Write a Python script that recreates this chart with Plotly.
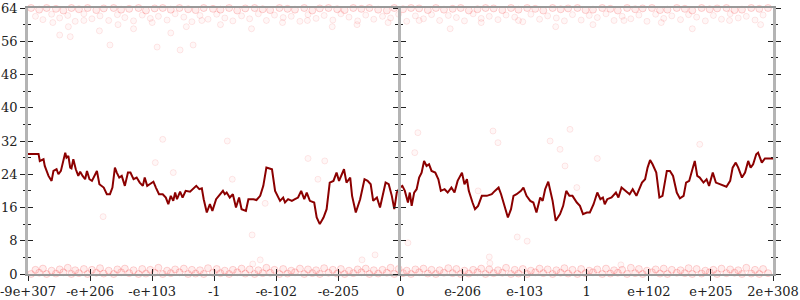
import plotly.graph_objects as go

# ---- data ----
tick_vals_left = [-6, -5, -4, -3, -2, -1, 0]
tick_text_left = ["-9e+307", "-e+206", "-e+103", "-1", "-e-102", "-e-205", "0"]
tick_vals_right = [1, 2, 3, 4, 5, 6]
tick_text_right = ["e-206", "e-103", "1", "e+102", "e+205", "2e+308"]

line_x = [-6.00, -5.83, -5.81, -5.75, -5.73, -5.67, -5.62, -5.59, -5.54, -5.51, -5.47, -5.44, -5.40, -5.38,
          -5.35, -5.32, -5.30, -5.27, -5.23, -5.19, -5.16, -5.12, -5.08, -5.05, -5.01, -4.97, -4.94, -4.89,
          -4.85, -4.81, -4.78, -4.73, -4.68, -4.64, -4.60, -4.57, -4.53, -4.49, -4.44, -4.39, -4.35, -4.30,
          -4.25, -4.20, -4.15, -4.12, -4.08, -4.04, -3.98, -3.94, -3.89, -3.83, -3.78, -3.74, -3.70, -3.66,
          -3.63, -3.60, -3.55, -3.51, -3.46, -3.39, -3.34, -3.29, -3.24, -3.20, -3.17, -3.12, -3.07, -3.03,
          -2.97, -2.92, -2.86, -2.83, -2.80, -2.75, -2.70, -2.65, -2.60, -2.56, -2.49, -2.45, -2.37, -2.32,
          -2.26, -2.21, -2.16, -2.11, -2.07, -2.02, -1.94, -1.89, -1.86, -1.81, -1.75, -1.70, -1.65, -1.60,
          -1.55, -1.51, -1.46, -1.39, -1.35, -1.30, -1.24, -1.19, -1.14, -1.08, -1.03, -0.99, -0.95, -0.91,
          -0.87, -0.81, -0.78, -0.72, -0.65, -0.58, -0.53, -0.48, -0.44, -0.38, -0.33, -0.28, -0.24, -0.19,
          -0.14, -0.10, -0.06, -0.01, 0.03, 0.07, 0.12, 0.15, 0.18, 0.22, 0.26, 0.30, 0.34, 0.38, 0.42,
          0.46, 0.50, 0.56, 0.61, 0.65, 0.71, 0.76, 0.82, 0.87, 0.92, 0.99, 1.03, 1.07, 1.10, 1.16, 1.20,
          1.25, 1.31, 1.39, 1.47, 1.52, 1.58, 1.62, 1.67, 1.73, 1.78, 1.82, 1.87, 1.94, 1.98, 2.03, 2.09,
          2.14, 2.19, 2.25, 2.29, 2.33, 2.38, 2.42, 2.45, 2.50, 2.57, 2.62, 2.67, 2.72, 2.77, 2.84, 2.89,
          2.94, 3.00, 3.05, 3.11, 3.17, 3.22, 3.26, 3.29, 3.33, 3.40, 3.47, 3.51, 3.56, 3.62, 3.69, 3.74,
          3.80, 3.89, 3.94, 3.98, 4.02, 4.06, 4.12, 4.17, 4.22, 4.29, 4.34, 4.39, 4.45, 4.50, 4.56, 4.60,
          4.65, 4.71, 4.74, 4.78, 4.82, 4.88, 4.93, 4.97, 5.03, 5.08, 5.14, 5.20, 5.25, 5.31, 5.35, 5.40,
          5.44, 5.50, 5.55, 5.60, 5.64, 5.68, 5.73, 5.76, 5.82, 5.87, 5.95, 6.00]
line_y = [28.9, 28.9, 27.2, 27.6, 26.0, 23.6, 22.4, 24.8, 25.2, 24.0, 24.8, 26.8, 29.2, 28.0,
          28.4, 25.6, 25.4, 27.6, 25.2, 23.6, 24.6, 23.6, 22.8, 24.8, 22.8, 22.4, 23.2, 24.8,
          21.6, 21.2, 20.8, 19.2, 19.2, 20.8, 25.6, 24.4, 23.2, 23.6, 21.2, 24.4, 24.4, 22.8,
          23.2, 22.0, 21.2, 23.2, 21.2, 21.6, 22.2, 20.8, 19.2, 19.2, 18.4, 16.8, 18.8, 17.6,
          19.6, 18.0, 19.8, 18.4, 20.0, 19.8, 20.4, 21.2, 20.4, 20.6, 18.0, 14.8, 16.8, 15.2,
          18.0, 18.8, 20.0, 19.2, 19.6, 18.4, 19.2, 16.0, 18.4, 15.6, 15.2, 18.0, 18.0, 17.8,
          18.8, 21.2, 25.6, 25.4, 25.2, 20.0, 17.6, 18.4, 17.2, 18.0, 17.6, 18.0, 18.4, 20.0,
          18.0, 19.6, 17.6, 17.2, 13.6, 12.0, 13.6, 15.6, 22.0, 22.4, 24.4, 22.4, 23.6, 25.2,
          22.0, 23.2, 18.8, 14.8, 18.0, 22.8, 22.4, 21.6, 17.6, 18.4, 16.0, 19.6, 22.0, 21.6,
          18.8, 15.6, 19.6, 20.8, 21.2, 20.0, 17.2, 19.6, 16.4, 19.6, 20.4, 23.2, 24.4, 27.2, 26.0,
          26.4, 24.8, 24.4, 22.8, 20.0, 20.4, 19.6, 20.8, 19.6, 22.4, 24.4, 21.6, 22.8, 20.0, 17.2, 15.6,
          16.4, 18.8, 18.8, 19.2, 20.0, 20.8, 19.2, 16.4, 13.6, 15.6, 18.8, 19.2, 20.0, 20.8, 18.8, 17.6,
          17.2, 14.8, 18.4, 17.6, 20.4, 22.2, 19.6, 17.6, 12.8, 14.4, 16.4, 20.0, 18.8, 18.8, 17.2, 16.4,
          14.4, 14.8, 14.8, 16.8, 19.6, 18.0, 18.4, 16.8, 18.0, 18.4, 19.6, 18.4, 20.8, 20.0, 19.2, 20.4,
          18.8, 22.0, 22.8, 25.6, 27.4, 26.4, 24.4, 18.4, 18.8, 24.8, 24.8, 23.6, 19.6, 18.2, 18.8, 22.0,
          22.4, 25.6, 27.2, 23.6, 23.2, 22.0, 22.8, 21.2, 24.4, 22.0, 21.6, 21.2, 21.0, 22.4, 25.6, 26.8,
          25.6, 23.2, 24.4, 27.2, 25.6, 26.4, 28.8, 29.2, 26.8, 27.8, 27.8, 27.8]

# faint sample points: bottom band
bot_x = [-5.95, -5.82, -5.7, -5.55, -5.43, -5.3, -5.18, -5.04, -4.9, -4.78, -4.62, -4.5, -4.37, -4.22, -4.1,
         -3.96, -3.83, -3.7, -3.56, -3.42, -3.3, -3.17, -3.02, -2.9, -2.76, -2.63, -2.5, -2.35, -2.22, -2.1,
         -1.95, -1.82, -1.7, -1.55, -1.42, -1.3, -1.16, -1.02, -0.9, -0.76, -0.63, -0.5, -0.36, -0.22, -0.1,
         0.04, 0.17, 0.3, 0.44, 0.57, 0.7, 0.84, 0.97, 1.1, 1.24, 1.37, 1.5, 1.64, 1.78, 1.9,
         2.04, 2.17, 2.3, 2.45, 2.58, 2.7, 2.85, 2.98, 3.1, 3.25, 3.38, 3.5, 3.65, 3.78, 3.9,
         4.05, 4.18, 4.3, 4.45, 4.58, 4.7, 4.85, 4.98, 5.1, 5.25, 5.38, 5.5, 5.65, 5.78, 5.92]
bot_y = [0, 0.3, 0, 0.1, 0.4, 0, 0.2, 0, 0.3, 0.1, 0, 0.4, 0.2, 0, 0.1,
         0.3, 0, 0.2, 0.4, 0, 0.1, 0, 0.3, 0.2, 0, 0.4, 0.1, 0, 0.2, 0.3,
         0, 0.1, 0.4, 0, 0.2, 0, 0.3, 0.1, 0, 0.2, 0.4, 0, 0.1, 0.3, 0,
         0.2, 0, 0.4, 0.1, 0, 0.3, 0.2, 0, 0.1, 0.4, 0, 0.2, 0.3, 0, 0.1,
         0, 0.4, 0.2, 0, 0.3, 0.1, 0, 0.2, 0.4, 0, 0.1, 0.3, 0, 0.2, 0,
         0.4, 0.1, 0, 0.3, 0.2, 0, 0.1, 0.4, 0, 0.2, 0.3, 0, 0.1, 0, 0.2]
bot2_x = [-5.88, -5.76, -5.62, -5.49, -5.36, -5.24, -5.1, -4.97, -4.84, -4.7, -4.56, -4.44, -4.3, -4.16, -4.03,
          -3.9, -3.76, -3.63, -3.49, -3.36, -3.23, -3.1, -2.96, -2.83, -2.7, -2.56, -2.43, -2.29, -2.16, -2.03,
          -1.89, -1.76, -1.62, -1.49, -1.36, -1.23, -1.09, -0.96, -0.83, -0.69, -0.56, -0.43, -0.29, -0.16, -0.03,
          0.1, 0.24, 0.37, 0.5, 0.63, 0.77, 0.9, 1.03, 1.17, 1.3, 1.43, 1.57, 1.7, 1.84, 1.97,
          2.1, 2.24, 2.37, 2.51, 2.64, 2.77, 2.91, 3.04, 3.17, 3.31, 3.44, 3.57, 3.71, 3.84, 3.97,
          4.11, 4.24, 4.37, 4.51, 4.64, 4.77, 4.91, 5.04, 5.17, 5.31, 5.44, 5.57, 5.71, 5.84]
bot2_y = [1.0, 1.3, 0.8, 1.1, 1.5, 0.9, 1.2, 1.0, 1.4, 0.8, 1.1, 1.3, 0.9, 1.2, 1.0,
          1.5, 0.8, 1.1, 1.3, 1.0, 0.9, 1.4, 1.2, 0.8, 1.0, 1.3, 1.1, 0.9, 1.5, 1.0,
          1.2, 0.8, 1.3, 1.1, 0.9, 1.4, 1.0, 1.2, 0.8, 1.1, 1.3, 0.9, 1.0, 1.5, 1.2,
          0.8, 1.1, 1.3, 1.0, 0.9, 1.4, 1.2, 0.8, 1.0, 1.3, 1.1, 0.9, 1.5, 1.0, 1.2,
          0.8, 1.3, 1.1, 0.9, 1.4, 1.0, 1.2, 0.8, 1.1, 1.3, 0.9, 1.0, 1.5, 1.2, 0.8,
          1.1, 1.3, 1.0, 0.9, 1.4, 1.2, 0.8, 1.0, 1.3, 1.1, 0.9, 1.5, 1.0, 1.2]
# top band
top_y = [64, 63.6, 64, 63.8, 63.4, 64, 63.7, 64, 63.5, 63.9, 64, 63.6, 63.8, 64, 63.4,
         63.9, 64, 63.6, 64, 63.7, 63.5, 64, 63.8, 63.6, 64, 63.4, 63.9, 64, 63.7, 63.5,
         64, 63.8, 63.6, 64, 63.4, 63.9, 64, 63.7, 63.5, 64, 63.8, 64, 63.6, 63.4, 64,
         63.7, 64, 63.9, 63.5, 64, 63.6, 63.8, 64, 63.4, 63.7, 64, 63.9, 63.5, 64, 63.6,
         64, 63.8, 63.4, 64, 63.7, 63.9, 64, 63.5, 63.6, 64, 63.8, 63.4, 64, 63.7, 63.9,
         64, 63.5, 63.6, 64, 63.8, 63.4, 64, 63.7, 63.9, 64, 63.5, 63.6, 64, 63.8, 64]
top2_y = [62.0, 61.2, 62.5, 61.6, 62.2, 60.8, 62.6, 61.4, 62.1, 61.0, 62.4, 61.7, 60.9, 62.3, 61.5,
          62.0, 61.1, 62.6, 61.8, 60.7, 62.2, 61.3, 62.5, 61.6, 60.9, 62.1, 61.4, 62.6, 61.0, 62.3,
          61.7, 62.0, 60.8, 62.4, 61.5, 62.2, 61.1, 62.6, 61.8, 60.9, 62.3, 61.3, 62.0, 61.6, 62.5,
          60.8, 62.1, 61.4, 62.4, 61.0, 62.2, 61.7, 60.9, 62.6, 61.5, 62.0, 61.2, 62.3, 61.8, 60.7,
          62.5, 61.3, 62.1, 61.6, 60.9, 62.4, 61.1, 62.2, 61.7, 62.6, 61.0, 62.0, 61.4, 62.3, 60.8,
          62.5, 61.5, 62.1, 61.2, 62.4, 61.8, 60.9, 62.2, 61.3, 62.6, 61.6, 62.0, 61.1, 62.3]
# scattered points
upper_x = [-5.6, -5.35, -5.1, -4.85, -4.55, -4.3, -4.0, -3.7, -3.45, -3.2, -2.9, -2.4, -1.9, -1.5,
           -1.1, -0.7, -0.2, 0.3, 0.8, 1.3, 1.9, 2.5, 3.1, 3.6, 4.2, 4.7, 5.3, 5.8,
           -4.68, -3.55, -3.34, -3.92, -5.49, -5.32]
upper_y = [60.5, 59.5, 61.0, 58.5, 60.0, 59.0, 60.5, 58.0, 59.5, 61.0, 60.0, 59.0, 60.5, 61.0,
           59.5, 60.0, 60.5, 61.0, 59.0, 60.5, 61.0, 59.5, 60.0, 61.0, 60.5, 59.0, 61.0, 60.0,
           55.1, 53.9, 55.1, 54.6, 57.5, 57.1]
mid_x = [-3.83, -3.95, -3.66, -2.79, -2.71, -4.79, -2.18, -1.49, -1.22, -1.33, 0.23, 0.28, 1.49, 1.57,
         1.25, 2.41, 2.57, 2.65, 2.84, 3.17, 4.82, 2.73, -2.39, -2.26, -2.38, -0.62, -0.41, 1.88, 2.04,
         0.12, 1.43, 1.44, 3.55]
mid_y = [32.4, 26.8, 24.4, 32.0, 22.8, 13.8, 17.0, 27.8, 27.2, 22.8, 29.2, 34.0, 34.4, 31.6,
         20.0, 32.0, 30.0, 26.0, 20.8, 27.8, 31.2, 34.8, 9.4, 3.4, 2.4, 3.4, 4.6, 8.9, 7.9,
         7.5, 4.1, 2.6, 2.2]

# ---- figure ----
AXIS_GRAY = "#b4b4b4"
TICK = "#222222"
FONT = dict(family="DejaVu Serif, Liberation Serif, serif", size=13, color="#222222")
band_marker = dict(size=7, color="rgba(255,0,0,0.07)", line=dict(color="rgba(235,0,0,0.16)", width=1))
sparse_marker = dict(size=6, color="rgba(255,0,0,0.03)", line=dict(color="rgba(235,0,0,0.09)", width=1))

point_groups = [(bot_x, bot_y, band_marker), (bot2_x, bot2_y, band_marker),
                (bot_x, top_y, band_marker), (bot2_x, top2_y, sparse_marker),
                (upper_x, upper_y, sparse_marker), (mid_x, mid_y, sparse_marker)]

fig = go.Figure()
# line in both halves (each half clips to its own range)
fig.add_trace(go.Scatter(x=line_x, y=line_y, mode="lines", line=dict(color="#8b0000", width=2),
                         xaxis="x", yaxis="y", hoverinfo="skip", showlegend=False))
fig.add_trace(go.Scatter(x=line_x, y=line_y, mode="lines", line=dict(color="#8b0000", width=2),
                         xaxis="x2", yaxis="y2", hoverinfo="skip", showlegend=False))
# points: left half on overlay (x3,y3), right half on overlay (x4,y4) / (x2,y5) / (x2,y6)
for i, (px, py, mk) in enumerate(point_groups):
    lx = [a for a in px if a <= 0]
    ly = [b for a, b in zip(px, py) if a <= 0]
    rx = [a for a in px if a > 0]
    ry = [b for a, b in zip(px, py) if a > 0]
    fig.add_trace(go.Scatter(x=lx, y=ly, mode="markers", marker=mk, xaxis="x3", yaxis="y3",
                             cliponaxis=False, hoverinfo="skip", showlegend=False))
    ya = "y4" if i < 4 else ("y5" if i == 4 else "y6")
    xa = "x4" if i < 4 else "x2"
    fig.add_trace(go.Scatter(x=rx, y=ry, mode="markers", marker=mk, xaxis=xa, yaxis=ya,
                             cliponaxis=False, hoverinfo="skip", showlegend=False))

yr = [0, 64]
base_y = dict(range=yr, tick0=0, dtick=8, showgrid=False, zeroline=False, tickcolor=TICK,
              tickwidth=1.3, ticklen=5, fixedrange=True, automargin=False)
minor_out = dict(dtick=4, tick0=0, ticks="outside", ticklen=2.5, tickcolor=TICK, tickwidth=1, showgrid=False)
minor_in = dict(dtick=4, tick0=0, ticks="inside", ticklen=2.5, tickcolor=TICK, tickwidth=1, showgrid=False)
base_x = dict(showgrid=False, zeroline=False, tickcolor=TICK, tickwidth=1.3, ticklen=5, fixedrange=True,
              tickmode="array", automargin=False)


def yax(**kw):
    d = dict(base_y)
    d.update(kw)
    return d


def xax(**kw):
    d = dict(base_x)
    d.update(kw)
    return d


fig.update_layout(
    width=800, height=300,
    margin=dict(l=28, r=27, t=8, b=26, pad=0, autoexpand=False),
    paper_bgcolor="white", plot_bgcolor="white",
    showlegend=False,
    font=FONT,
    xaxis=xax(domain=[0, 0.5], range=[-6, 0], anchor="y", tickvals=tick_vals_left, ticktext=tick_text_left,
              ticks="outside", showline=True, linecolor="#999999", linewidth=1.5, mirror=True,
              tickfont=FONT, ticklabeloverflow="allow"),
    xaxis2=xax(domain=[0.5, 1], range=[0, 6], anchor="y2", tickvals=tick_vals_right, ticktext=tick_text_right,
               ticks="outside", showline=True, linecolor="#999999", linewidth=1.5, mirror=True,
               tickfont=FONT, ticklabeloverflow="allow"),
    xaxis3=xax(range=[-6, 0], overlaying="x", anchor="y3", side="bottom", tickvals=tick_vals_left,
               ticks="inside", showticklabels=False, showline=False),
    xaxis4=xax(range=[0, 6], overlaying="x2", anchor="y4", side="bottom", tickvals=tick_vals_right,
               ticks="inside", showticklabels=False, showline=False),
    yaxis=yax(anchor="x", side="left", ticks="outside", minor=minor_out, showline=True,
              linecolor=AXIS_GRAY, linewidth=2.5, tickfont=FONT),
    yaxis2=yax(anchor="x2", side="left", ticks="outside", minor=minor_out, showline=True,
               linecolor=AXIS_GRAY, linewidth=2.5, showticklabels=False),
    yaxis3=yax(overlaying="y", anchor="x3", side="left", ticks="inside", minor=minor_in,
               showticklabels=False, showline=False),
    yaxis4=yax(overlaying="y2", anchor="x4", side="left", ticks="inside", minor=minor_in,
               showticklabels=False, showline=False),
    yaxis5=yax(overlaying="y2", anchor="x2", side="right", ticks="outside", minor=minor_out,
               showticklabels=False, showline=True, linecolor=AXIS_GRAY, linewidth=2.5),
    yaxis6=yax(overlaying="y2", anchor="x2", side="right", ticks="inside", minor=minor_in,
               showticklabels=False, showline=False),
)

fig.write_html("out.html")
